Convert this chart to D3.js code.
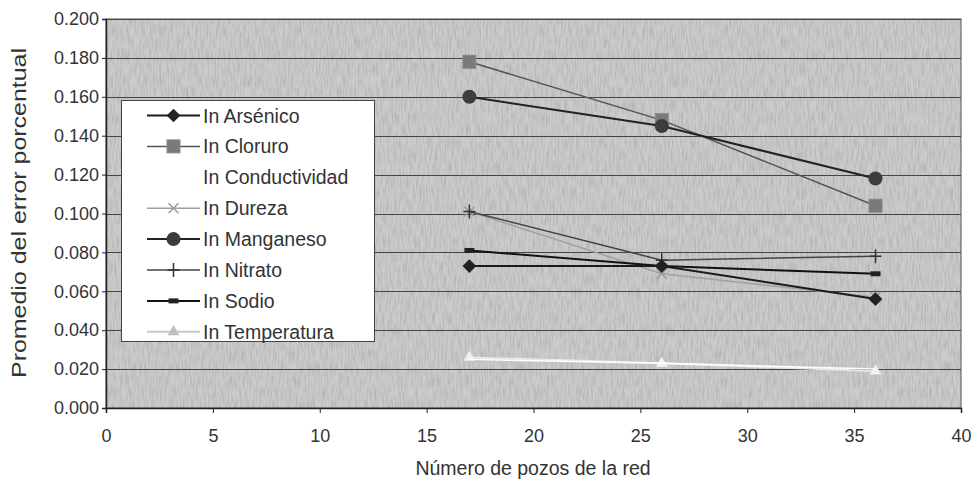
<!DOCTYPE html>
<html>
<head>
<meta charset="utf-8">
<script src="https://cdn.jsdelivr.net/npm/d3@7"></script>
<style>
  body { margin: 0; background: #fff; }
  svg { font-family: "Liberation Sans", Arial, sans-serif; }
</style>
</head>
<body>
<svg id="chart" width="976" height="482"></svg>
<script>
// data
const pozos = [17, 26, 36];
const arsenico = [0.073, 0.073, 0.056];
const cloruro = [0.178, 0.148, 0.104];
const conductividad = [0.025, 0.023, 0.020];
const dureza = [0.101, 0.069, 0.057];
const manganeso = [0.160, 0.145, 0.118];
const nitrato = [0.101, 0.076, 0.078];
const sodio = [0.081, 0.073, 0.069];
const temperatura = [0.026, 0.023, 0.019];
const xTicks = [0, 5, 10, 15, 20, 25, 30, 35, 40];
const yTicks = [0, 0.02, 0.04, 0.06, 0.08, 0.1, 0.12, 0.14, 0.16, 0.18, 0.2];

const series = [
  { name: 'In Arsénico', values: arsenico, color: '#1a1a1a', width: 2, marker: 'diamond', mcolor: '#222' },
  { name: 'In Cloruro', values: cloruro, color: '#555', width: 1.5, marker: 'square', mcolor: '#7a7a7a' },
  { name: 'In Conductividad', values: conductividad, color: '#ffffff', width: 1.5, marker: 'none', mcolor: '#fff' },
  { name: 'In Dureza', values: dureza, color: '#a0a0a0', width: 1.5, marker: 'x', mcolor: '#9a9a9a' },
  { name: 'In Manganeso', values: manganeso, color: '#222', width: 2, marker: 'circle', mcolor: '#3c3c3c' },
  { name: 'In Nitrato', values: nitrato, color: '#444', width: 1.5, marker: 'plus', mcolor: '#333' },
  { name: 'In Sodio', values: sodio, color: '#111', width: 2, marker: 'dash', mcolor: '#222' },
  { name: 'In Temperatura', values: temperatura, color: '#e8e8e8', width: 2, marker: 'triangle', mcolor: '#f2f2f2' }
];

const svg = d3.select('#chart');
const L = 106, R = 961, T = 19, B = 408;

const x = d3.scaleLinear().domain([0, 40]).range([L, R]);
const y = d3.scaleLinear().domain([0, 0.2]).range([B, T]);

// scanned-paper texture for the plot area
const defs = svg.append('defs');
const f = defs.append('filter').attr('id', 'grain').attr('x', 0).attr('y', 0).attr('width', 1).attr('height', 1);
f.append('feTurbulence').attr('type', 'fractalNoise').attr('baseFrequency', '0.6 0.08').attr('numOctaves', 2).attr('seed', 3);
f.append('feColorMatrix').attr('type', 'matrix')
  .attr('values', '0 0 0 0 0  0 0 0 0 0  0 0 0 0 0  0 0 0 -1.2 0.75');

// plot background
svg.append('rect').attr('x', L).attr('y', T).attr('width', R - L).attr('height', B - T)
  .attr('fill', '#cbcbcb');
svg.append('rect').attr('x', L).attr('y', T).attr('width', R - L).attr('height', B - T)
  .attr('filter', 'url(#grain)').attr('opacity', 0.2);
svg.append('rect').attr('x', L).attr('y', T).attr('width', R - L).attr('height', B - T)
  .attr('fill', 'none').attr('stroke', '#555').attr('stroke-width', 1);

// horizontal gridlines
svg.append('g').selectAll('line').data(yTicks.slice(1)).enter().append('line')
  .attr('x1', L).attr('x2', R)
  .attr('y1', d => Math.round(y(d)) + 0.5).attr('y2', d => Math.round(y(d)) + 0.5)
  .attr('stroke', '#444').attr('stroke-width', 1);

// axes
const yAxis = svg.append('g').attr('transform', `translate(${L},0)`)
  .call(d3.axisLeft(y).tickValues(yTicks).tickFormat(d3.format('.3f')).tickSize(4).tickPadding(3));
const xAxis = svg.append('g').attr('transform', `translate(0,${B})`)
  .call(d3.axisBottom(x).tickValues(xTicks).tickSize(5).tickPadding(16));
[yAxis, xAxis].forEach(a => {
  a.select('.domain').attr('stroke', '#222').attr('stroke-width', 1.5);
  a.selectAll('.tick line').attr('stroke', '#222');
  a.selectAll('text').attr('font-size', 18).attr('fill', '#333')
    .attr('font-family', '"Liberation Sans", Arial, sans-serif');
});

svg.append('text').attr('x', 533).attr('y', 475).attr('text-anchor', 'middle')
  .attr('font-size', 19.5).attr('fill', '#333').text('Número de pozos de la red');
svg.append('text').attr('transform', 'translate(26,213) rotate(-90)').attr('text-anchor', 'middle')
  .attr('font-size', 19.5).attr('fill', '#333')
  .attr('textLength', 330).attr('lengthAdjust', 'spacingAndGlyphs')
  .text('Promedio del error porcentual');

function drawMarker(g, s, cx, cy) {
  const c = s.mcolor;
  switch (s.marker) {
    case 'diamond':
      g.append('path').attr('d', d3.symbol(d3.symbolDiamond2, 120)()).attr('transform', `translate(${cx},${cy})`).attr('fill', c);
      break;
    case 'square':
      g.append('rect').attr('x', cx - 6.5).attr('y', cy - 6.5).attr('width', 13).attr('height', 13).attr('fill', c).attr('stroke', '#888');
      break;
    case 'circle':
      g.append('circle').attr('cx', cx).attr('cy', cy).attr('r', 7).attr('fill', c);
      break;
    case 'x':
      g.append('path').attr('d', `M${cx-5},${cy-5}L${cx+5},${cy+5}M${cx-5},${cy+5}L${cx+5},${cy-5}`).attr('stroke', c).attr('stroke-width', 1.5);
      break;
    case 'plus':
      g.append('path').attr('d', `M${cx},${cy-7}L${cx},${cy+7}M${cx-6},${cy}L${cx+6},${cy}`).attr('stroke', c).attr('stroke-width', 1.5);
      break;
    case 'dash':
      g.append('rect').attr('x', cx - 5).attr('y', cy - 2.5).attr('width', 10).attr('height', 5).attr('fill', c);
      break;
    case 'triangle':
      g.append('path').attr('d', d3.symbol(d3.symbolTriangle, 60)()).attr('transform', `translate(${cx},${cy})`).attr('fill', c);
      break;
  }
}

// series
const line = d3.line().x((d, i) => x(pozos[i])).y(d => y(d));
const order = [7, 2, 3, 5, 6, 0, 1, 4];
order.forEach(k => {
  const s = series[k];
  const g = svg.append('g');
  g.append('path').datum(s.values).attr('d', line).attr('fill', 'none')
    .attr('stroke', s.color).attr('stroke-width', s.width);
  s.values.forEach((v, i) => drawMarker(g, s, x(pozos[i]), y(v)));
});

// legend
const lg = svg.append('g');
lg.append('rect').attr('x', 121.5).attr('y', 100.5).attr('width', 253).attr('height', 241)
  .attr('fill', '#fff').attr('stroke', '#444').attr('stroke-width', 1);
series.forEach((s, i) => {
  const cy = 115.5 + i * 30.9;
  lg.append('line').attr('x1', 147).attr('x2', 200).attr('y1', cy).attr('y2', cy)
    .attr('stroke', s.name === 'In Temperatura' ? '#c8c8c8' : s.color).attr('stroke-width', s.width);
  drawMarker(lg, s.name === 'In Temperatura' ? Object.assign({}, s, { mcolor: '#c0c0c0' }) : s, 173.5, cy);
  lg.append('text').attr('x', 203).attr('y', cy + 7).attr('font-size', 19.5).attr('fill', '#333').text(s.name);
});
</script>
</body>
</html>
